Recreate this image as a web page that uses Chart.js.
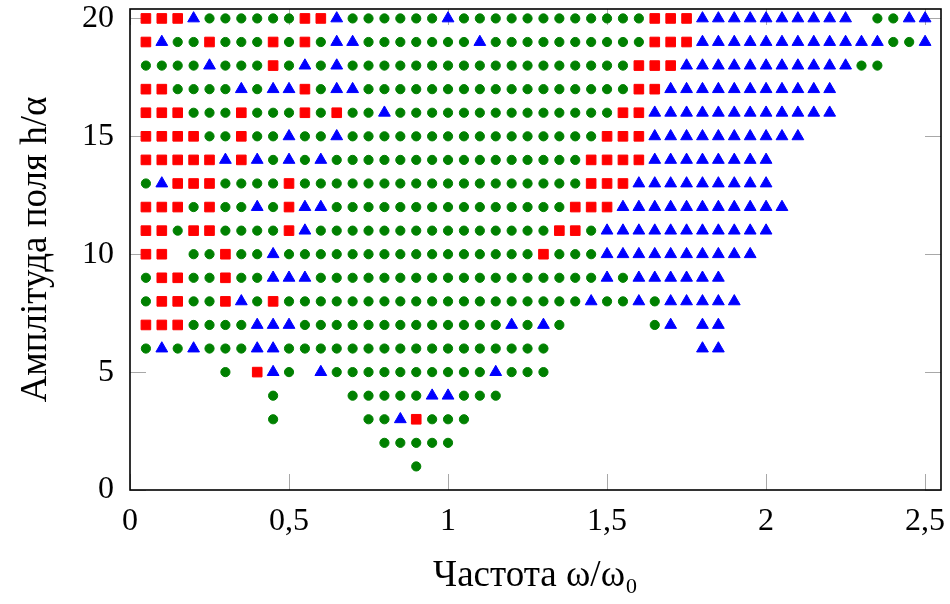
<!DOCTYPE html>
<html>
<head>
<meta charset="utf-8">
<script src="https://cdn.jsdelivr.net/npm/chart.js@4/dist/chart.umd.min.js"></script>
<style>
html,body{margin:0;padding:0;background:#ffffff;}
#wrap{width:950px;height:604px;position:relative;}
</style>
</head>
<body>
<div id="wrap"><canvas id="c" width="950" height="604"></canvas></div>
<script>
// Frequency grid (x categories), omega/omega0
const frequencies = [
  0.05,0.10,0.15,0.20,0.25,0.30,0.35,0.40,0.45,0.50,
  0.55,0.60,0.65,0.70,0.75,0.80,0.85,0.90,0.95,1.00,
  1.05,1.10,1.15,1.20,1.25,1.30,1.35,1.40,1.45,1.50,
  1.55,1.60,1.65,1.70,1.75,1.80,1.85,1.90,1.95,2.00,
  2.05,2.10,2.15,2.20,2.25,2.30,2.35,2.40,2.45,2.50
];
// Field amplitudes h/alpha (rows)
const amplitudes = [20,19,18,17,16,15,14,13,12,11,10,9,8,7,6,5,4,3,2,1];
// Regime per (amplitude, frequency): C = green circle, S = red square, T = blue triangle, . = none
// groups of 10 frequencies separated by spaces
const regimeRows = [
  "SSSTCCCCCC SSTCCCCCCT CCCCCCCCCC CCSSSTTTTT TTTTT.CCTT", // 20
  "STCCSCCCSC SCTTCCCCCC CTCCCCCCCC CCSSSTTTTT TTTTTTTCCT", // 19
  "CCCCTCCCSC TCTCCCCCCC CCCCCCCCCC CSSSTTTTTT TTTTTCC...", // 18
  "SSCCCCTCTT SCTTCCCCCC CCCCCCCCCC CSSTTTTTTT TTTT......", // 17
  "SSSCCCSCCC SCSCCTCCCC CCCCCCCCCC SSTTTTTTTT TTTT......", // 16
  "SSSSCCSCCT CCTCCCCCCC CCCCCCCCCS SSTTTTTTTT TT........", // 15
  "SSSSSTSTCT CTCCCCCCCC CCCCCCCCSS SSTTTTTTTT ..........", // 14
  "CTSSSCCCCS CCCCCCCCCC CCCCCCCCSS STTTTTTTTT ..........", // 13
  "SSSCSCCTCS TTCCCCCCCC CCCCCCCSSS TTTTTTTTTT T.........", // 12
  "SSCSSCCCCS TCCCCCCCCC CCCCCCSSCT TTTTTTTTTT ..........", // 11
  "SS.CCSCCTC CCCCCCCCCC CCCCCSCCCT TTTTTTTTT. ..........", // 10
  "CSSCCSCCTT TCCCCCCCCC CCCCCCCCCT CTTTTTT... ..........", // 9
  "CSSCCSTCSC CCCCCCCCCC CCCCCCCCTC CTCTTTTT.. ..........", // 8
  "SSSCCCCTTT CCCCCCCCCC CCCTCTC... ..CT.TT... ..........", // 7
  "CTCTCCCTTC CCCCCCCCCC CCCCCC.... .....TT... ..........", // 6
  ".....C.STC .TCCCCCCCC CCTCCC.... .......... ..........", // 5
  "........C. ...CCCCCTT CCC....... .......... ..........", // 4
  "........C. ....CCTSCC C......... .......... ..........", // 3
  ".......... .....CCCCC .......... .......... ..........", // 2
  ".......... .......C.. .......... .......... .........."  // 1
];
const xTickValues = [0, 0.5, 1, 1.5, 2, 2.5];
const yTickValues = [0, 5, 10, 15, 20];
const xLabel = "Частота ω/ω₀";
const yLabel = "Амплітуда поля h/α";

const circlePoints = [], squarePoints = [], trianglePoints = [];
amplitudes.forEach((h, i) => {
  const row = regimeRows[i].replace(/ /g, "");
  for (let k = 0; k < row.length; k++) {
    const p = {x: frequencies[k], y: h};
    if (row[k] === "C") circlePoints.push(p);
    else if (row[k] === "S") squarePoints.push(p);
    else if (row[k] === "T") trianglePoints.push(p);
  }
});

const TICK_FONT = {family: "'Liberation Serif', 'Times New Roman', serif", size: 32};
const TITLE_FONT = {family: "'Liberation Serif', 'Times New Roman', serif", size: 37};

const frameTicks = {
  id: "frameTicks",
  beforeDatasetsDraw(chart) {
    const {ctx, chartArea: a, scales: {x, y}} = chart;
    const len = 16;
    ctx.save();
    ctx.strokeStyle = "#a8a8a8";
    ctx.lineWidth = 1;
    ctx.beginPath();
    xTickValues.forEach(v => {
      const px = Math.round(x.getPixelForValue(v)) + 0.5;
      ctx.moveTo(px, a.bottom); ctx.lineTo(px, a.bottom - len);
      ctx.moveTo(px, a.top); ctx.lineTo(px, a.top + len);
    });
    yTickValues.forEach(v => {
      const py = Math.round(y.getPixelForValue(v)) + 0.5;
      ctx.moveTo(a.left, py); ctx.lineTo(a.left + len, py);
      ctx.moveTo(a.right, py); ctx.lineTo(a.right - len, py);
    });
    ctx.stroke();
    ctx.restore();
  },
  afterDatasetsDraw(chart) {
    const {ctx, chartArea: a} = chart;
    ctx.save();
    ctx.strokeStyle = "#000000";
    ctx.lineWidth = 1.6;
    ctx.strokeRect(a.left, a.top, a.right - a.left, a.bottom - a.top);
    ctx.restore();
  }
};

const fmt = v => String(v).replace(".", ",");

new Chart(document.getElementById("c"), {
  type: "scatter",
  data: {
    datasets: [
      {label: "circles", data: circlePoints, pointStyle: "circle", pointRadius: 4.6,
       backgroundColor: "#008000", borderColor: "#008000", borderWidth: 1},
      {label: "squares", data: squarePoints, pointStyle: "rect", pointRadius: 6.8,
       backgroundColor: "#ff0000", borderColor: "#ff0000", borderWidth: 1},
      {label: "triangles", data: trianglePoints, pointStyle: "triangle", pointRadius: 6.8,
       backgroundColor: "#0000ff", borderColor: "#0000ff", borderWidth: 1}
    ]
  },
  options: {
    responsive: false,
    animation: false,
    devicePixelRatio: 1,
    layout: {padding: {top: 9, right: 9, left: 0, bottom: 0}},
    plugins: {legend: {display: false}, tooltip: {enabled: false}},
    scales: {
      x: {
        type: "linear", min: 0, max: 2.55,
        afterBuildTicks: s => { s.ticks = xTickValues.map(v => ({value: v})); },
        afterFit: s => { s.height = 114; s.paddingLeft = 0; s.paddingRight = 0; },
        grid: {display: false, drawTicks: false},
        border: {display: false},
        ticks: {color: "#000", font: TICK_FONT, padding: 12, maxRotation: 0, callback: v => fmt(v)},
        title: {display: true, text: xLabel, color: "#000", font: TITLE_FONT, padding: {top: 0, bottom: 6}}
      },
      y: {
        type: "linear", min: 0, max: 20.4,
        afterBuildTicks: s => { s.ticks = yTickValues.map(v => ({value: v})); },
        afterFit: s => { s.width = 130; s.paddingTop = 0; s.paddingBottom = 0; },
        grid: {display: false, drawTicks: false},
        border: {display: false},
        ticks: {color: "#000", font: TICK_FONT, padding: 16, callback: v => fmt(v)},
        title: {display: true, text: yLabel, color: "#000", font: TITLE_FONT, padding: {top: 14, bottom: 0}}
      }
    }
  },
  plugins: [frameTicks]
});
</script>
</body>
</html>
